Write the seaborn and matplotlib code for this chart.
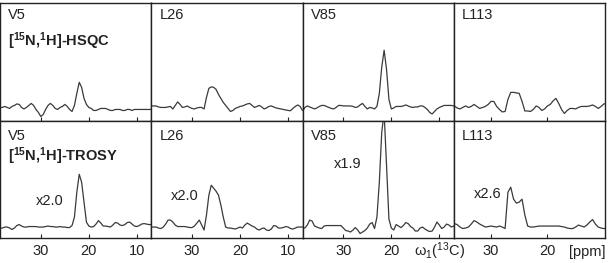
import numpy as np
import pandas as pd
import seaborn as sns
import matplotlib.pyplot as plt

# chemical shift axis (ppm), 0.5 ppm steps from 38.5 down to 7.0
ppm = np.arange(38.5, 6.9, -0.5)

residues = ['V5', 'L26', 'V85', 'L113']
experiments = ['[$^{15}$N,$^{1}$H]-HSQC', '[$^{15}$N,$^{1}$H]-TROSY']
scale_labels = ['x2.0', 'x2.0', 'x1.9', 'x2.6']

hsqc_v5 = [0, 0, 1, 0, -1, 1, 2, 3.5,
           3, 0, -1.5, 0, 2, 4, 2, -2,
           -5, -9, -7, -2, 2, 4, 2, -1,
           -2, 0, 1, 3, 1, -2, -4, 2,
           14, 25, 20, 9, 3, 0, -1, -3,
           -3, -2, -1, -1, -1, -2, -3, -3,
           -2, -2, -2, -3, -3, -2, -2, -3,
           -2, -2, -2, -2, -2, -2, -2, -2]
hsqc_l26 = [1.5, 1.5, 1.5, 0.5, 0, 0, 0, 0.5,
            1, -1.5, 2, 5.5, 3, 0, 0.5, 1.5,
            0, -1, -1.5, -0.5, 0, 0, -1.5, 10,
            19, 20.5, 20, 18, 13, 9, 5, 2,
            -1, -4, -3, -1, 0, 1, 1.5, 2.5,
            3.5, 4, 2, 0, 1, 2, 0.5, -1.5,
            -0.5, 1, 1.5, 0.5, -0.5, -1, -1.5, -2,
            -2.5, -3, -3.3, -1, 1, 2.5, 1, -3]
hsqc_v85 = [-4, 0, 1.5, 0.5, -0.5, -1.5, -0.5, 1,
            2, 2, 1, 0, -1, -1.5, 0, 2,
            2, 1.5, 1.5, 1.5, 1.5, 1, 0, 0.5,
            2.5, 4, 1, -1.5, 0, -0.5, -1.5, 1,
            14, 40, 57, 38, 8, -1.5, -0.5, 1,
            1, 1, 1.5, 2.5, 1.5, 0.5, 0, 0.5,
            0.5, 1.5, 1.5, 0, -2, -5, -6.5, -4,
            -1.5, 0, 1, 2, 2, 2, 2, 1.5]
hsqc_l113 = [0, 0, 1, 1.5, 1.5, -0.5, -1.5, 0,
             1.5, 0, 1, 3, 1, -1, 0, 1,
             3, 6, 6, 1, -2, -4.5, -4, 8,
             15, 15, 14.5, 14, 6, -3.5, -3.5, -4,
             -2, 1.5, 0, -3, -1.5, 1.5, 3, 6.5,
             9, 4, -2, -6, -3, -1, -1, -1.5,
             0, 1, 1, 1, 1.5, 2.5, 1, -1,
             1, 3.5, 4, 3, 2, 1, 0, 0]

trosy_v5 = [-1, -1, 0, 0, -1, -2.5, -1, 1.5,
            2.5, 1, 0, 0, 0.5, 0.5, 0.5, 0.5,
            0, 0, 0, 0.5, 1, 0.5, 0.5, 0,
            0, 0.5, 0, 0, -0.5, -0.5, 1.5, 10,
            35, 53, 45, 25, 5, 1, 0, 0.5,
            3, 6.5, 4, 1, 1, 0.5, 0, 2,
            4.5, 4, 2, 1.5, 2.5, 4.5, 5, 3,
            1, 0.5, 1.5, 3, 3.5, 3, 2.5, 2.5]
trosy_l26 = [0, 0, 0, -1, -1.5, 0, 3, 7,
             7, 5, 2, 0.5, 0.5, 0.5, 0.5, 0,
             -0.5, -0.5, 1, 4, 7, 2, -3, 12,
             32, 42, 39, 36, 32, 22, 10, 0,
             -1, -1, -1.5, -2, -1, 0, -1, 2,
             4, 2.5, 1, 0, -2, -3, -1.5, -1,
             -3, -3.5, -2, 1.5, 1, -1, -1, -0.5,
             0.5, 0, -1.5, -2, -1, 0, 0, 0]
trosy_v85 = [-1, -1, 2, 7, 6, 1, 0, -1,
             -1.5, 1, 1.5, 1.5, 1.5, 1.5, 1.5, 1.5,
             1.5, -1, -3.5, -4, -5, -3, -0.5, -3,
             -6.5, -5, -3.5, -1, 3, 4.5, -1.5, 10,
             45, 95, 115, 62, 8, -1, -3, 2.5,
             1, -0.5, 1.5, 4.5, 3.5, 0.5, -1, -4,
             -4, -1, 0, -2, -3.5, -4.5, -4, 0,
             5, 2, -1.5, 0, 3, 2, 0, 1]
trosy_l113 = [0, 0, 1.5, 2.5, 3.5, 2.5, 0, -1.5,
              -1, 0, 3, 6.5, 5, 3, 1.5, 0,
              0.5, 1, 0.5, 0, 1, 0, -1.5, 35,
              40, 28, 24, 25, 28, 12, 1, 0,
              0, 0.5, 1, 1, 1, 1, 1, 1,
              1, 1, 0.5, 0, -1, -1.5, -1.5, 0,
              2, 1, 0, 2, 5, 7.5, 3, 0,
              -1, -1.5, -1.5, -1, 0, 0, 0, 0]

hsqc = [hsqc_v5, hsqc_l26, hsqc_v85, hsqc_l113]
trosy = [trosy_v5, trosy_l26, trosy_v85, trosy_l113]

rows = []
for r, h, t in zip(residues, hsqc, trosy):
    rows.append(pd.DataFrame({'ppm': ppm, 'intensity': h, 'residue': r, 'exp': 'HSQC'}))
    rows.append(pd.DataFrame({'ppm': ppm, 'intensity': t, 'residue': r, 'exp': 'TROSY'}))
df = pd.concat(rows, ignore_index=True)

sns.set_style("ticks")
plt.rcParams['font.family'] = ['Liberation Sans', 'DejaVu Sans']
plt.rcParams['mathtext.fontset'] = 'custom'
plt.rcParams['mathtext.rm'] = 'Liberation Sans'
plt.rcParams['mathtext.bf'] = 'Liberation Sans:bold'
plt.rcParams['mathtext.default'] = 'regular'

fig, axes = plt.subplots(2, 4, figsize=(6.09, 2.63), dpi=100)
fig.subplots_adjust(left=0.0, right=605 / 609, top=1 - 3 / 263,
                    bottom=1 - 238 / 263, wspace=0, hspace=0)

xlims = [(38.5, 7.0), (38.5, 7.0), (38.5, 7.0), (36.6, 9.8)]
# where the scale factor text sits (ppm, intensity)
scale_pos = [(25.2, 22), (28.6, 27), (26.2, 59), (28.2, 29)]
line_col = '#3a3a3a'
txt_col = '#222222'

for j, res in enumerate(residues):
    for i, exp in enumerate(['HSQC', 'TROSY']):
        ax = axes[i, j]
        sub = df[(df['residue'] == res) & (df['exp'] == exp)]
        sns.lineplot(data=sub, x='ppm', y='intensity', ax=ax, color=line_col,
                     lw=0.9, sort=False)
        ax.set_xlim(*xlims[j])
        if i == 0:
            ax.set_ylim(-13, 104)
        else:
            ax.set_ylim(-11, 107)
        ax.set_xlabel('')
        ax.set_ylabel('')
        ax.set_yticks([])
        for s in ax.spines.values():
            s.set_visible(True)
            s.set_color(txt_col)
            s.set_linewidth(1.0)
        ax.tick_params(axis='x', direction='in', length=3, width=0.8,
                       labelsize=10.5, pad=4, colors=txt_col)
        ax.text(0.053, 0.955 if i == 0 else 0.93, res, transform=ax.transAxes,
                ha='left', va='top', fontsize=10.5, color=txt_col)
        if j == 0:
            ax.text(0.053, 0.765 if i == 0 else 0.785, experiments[i],
                    transform=ax.transAxes, ha='left', va='top',
                    fontsize=10.5, fontweight='bold', color=txt_col)
        if i == 0:
            ax.set_xticks([30, 20, 10] if j < 3 else [30, 20])
            ax.set_xticklabels([])
        else:
            sx, sy = scale_pos[j]
            ax.text(sx, sy, scale_labels[j], ha='right', va='baseline',
                    fontsize=10.5, color=txt_col)
            if j < 2:
                ax.set_xticks([30, 20, 10])
                ax.set_xticklabels(['30', '20', '10'])
            elif j == 2:
                ax.set_xticks([30, 20, 10])
                ax.set_xticklabels(['30', '20', ''])
                ax.text(10, -0.155, '$\\omega_1$($^{13}$C)',
                        transform=ax.get_xaxis_transform(), ha='center',
                        va='baseline', fontsize=10.5, color=txt_col,
                        clip_on=False)
            else:
                ax.set_xticks([30, 20])
                ax.set_xticklabels(['30', '20'])
                ax.text(1.0, -0.155, '[ppm]', transform=ax.transAxes,
                        ha='right', va='baseline', fontsize=10.5, color=txt_col)

fig.savefig('out.png', dpi=100)
